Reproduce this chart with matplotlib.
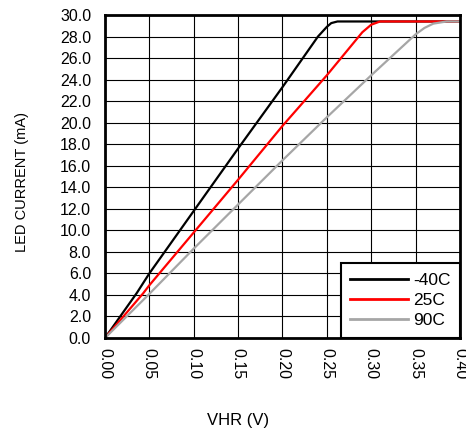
import matplotlib
matplotlib.use("Agg")
import matplotlib.pyplot as plt

plt.rcParams['font.family'] = ['Liberation Sans', 'DejaVu Sans']

# VHR (V) vs LED current (mA)
vhr_m40 = [0.0, 0.036, 0.05, 0.10, 0.15, 0.20, 0.24, 0.25, 0.255, 0.262, 0.40]
led_m40 = [0.0, 4.2, 6.0, 11.8, 17.6, 23.3, 28.0, 28.9, 29.25, 29.4, 29.4]

vhr_25 = [0.0, 0.043, 0.05, 0.10, 0.15, 0.20, 0.25, 0.29, 0.30, 0.31, 0.40]
led_25 = [0.0, 4.15, 4.9, 9.8, 14.7, 19.7, 24.4, 28.4, 29.1, 29.4, 29.4]

vhr_90 = [0.0, 0.05, 0.10, 0.15, 0.20, 0.25, 0.30, 0.35, 0.36, 0.37, 0.385, 0.40]
led_90 = [0.0, 4.1, 8.3, 12.4, 16.5, 20.5, 24.4, 28.2, 28.8, 29.2, 29.4, 29.4]

labels = ['-40C', '25C', '90C']
colors = ['black', '#FF0000', '#A6A6A6']

x_ticks = [0.00, 0.05, 0.10, 0.15, 0.20, 0.25, 0.30, 0.35, 0.40]
y_ticks = [0, 2, 4, 6, 8, 10, 12, 14, 16, 18, 20, 22, 24, 26, 28, 30]

fig = plt.figure(figsize=(4.66, 4.34), dpi=100)
ax = fig.add_axes([0.2253, 0.2212, 0.7617, 0.7442])

ax.plot(vhr_m40, led_m40, color=colors[0], lw=1.6, label=labels[0])
ax.plot(vhr_25, led_25, color=colors[1], lw=1.6, label=labels[1])
ax.plot(vhr_90, led_90, color=colors[2], lw=1.6, label=labels[2])

ax.set_xlim(0, 0.40)
ax.set_ylim(0, 30)
ax.set_xticks(x_ticks)
ax.set_yticks(y_ticks)
ax.set_xticklabels([f"{v:.2f}" for v in x_ticks], rotation=270, fontsize=11.5)
ax.set_yticklabels([f"{v:.1f}" for v in y_ticks], fontsize=11.5)
ax.tick_params(axis='y', length=0, pad=10)
ax.tick_params(axis='x', length=0, pad=7)
ax.grid(True, color='black', lw=0.8)
ax.set_axisbelow(True)
for s in ax.spines.values():
    s.set_linewidth(2)
    s.set_color('black')

leg = ax.legend(loc='lower right', bbox_to_anchor=(1.0, 0.0), borderaxespad=0,
                fontsize=12.5, handlelength=3.3, handletextpad=0.3,
                labelspacing=0.3, borderpad=0.55, fancybox=False, framealpha=1)
leg.get_frame().set_edgecolor('black')
leg.get_frame().set_linewidth(1.5)
for h in leg.get_lines():
    h.set_linewidth(2)

fig.text(238 / 466, 1 - 420 / 434, "VHR (V)", ha='center', va='center', fontsize=12)
fig.text(22 / 466, 1 - 182 / 434, "LED CURRENT (mA)", ha='center', va='center',
         rotation=90, fontsize=10.5)

fig.savefig("out.png", dpi=100)
